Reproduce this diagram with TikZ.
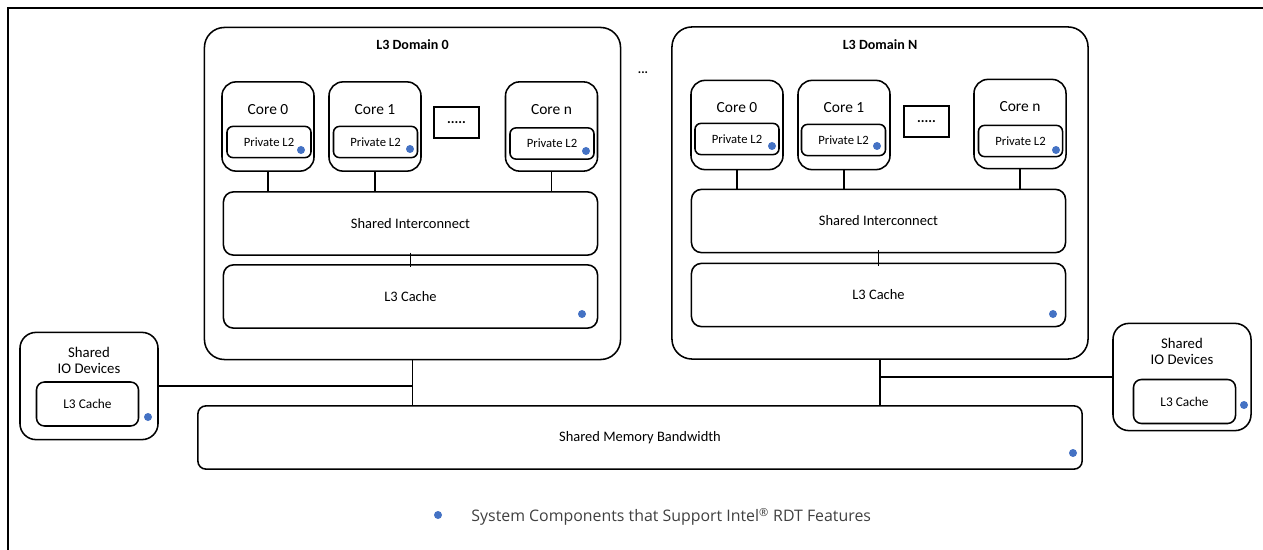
\documentclass[tikz,border=0pt]{standalone}
\usepackage{fontspec}
\setmainfont{Carlito}
\newfontfamily\legendfont{Open Sans}
\usepackage{tikz}
\usetikzlibrary{positioning,calc}
\usepackage{xcolor}
\definecolor{rdtblue}{HTML}{4472C4}
\definecolor{legendgray}{HTML}{404040}

\begin{document}
\begin{tikzpicture}[x=0.025cm, y=-0.025cm, line width=1.1pt,
    l3domain/.style={draw, rounded corners=0.5cm, minimum width=10.4cm, minimum height=8.3cm},
    domtitle/.style={font=\fontsize{10}{12}\selectfont\bfseries},
    core/.style={draw, rounded corners=0.35cm, minimum width=2.3cm, minimum height=2.23cm,
        label={[anchor=center, yshift=-0.7cm, font=\fontsize{11}{13}\selectfont]north:#1}},
    privl2/.style={draw, rounded corners=0.15cm, minimum width=2.1cm, minimum height=0.78cm,
        font=\fontsize{9}{11}\selectfont},
    more/.style={draw, minimum width=1.12cm, minimum height=0.78cm, font=\fontsize{10}{12}\selectfont\bfseries},
    wide/.style={draw, rounded corners=0.25cm, minimum width=9.35cm, minimum height=1.58cm,
        font=\fontsize{10.3}{12}\selectfont},
    iobox/.style={draw, rounded corners=0.4cm, minimum width=3.45cm, minimum height=2.68cm,
        label={[anchor=center, yshift=-0.72cm, align=center, font=\fontsize{10.5}{11.5}\selectfont]north:#1}},
    iocache/.style={draw, rounded corners=0.2cm, minimum width=2.55cm, minimum height=1.1cm,
        font=\fontsize{9.5}{11}\selectfont},
    rdt/.style={circle, fill=rdtblue, inner sep=0pt, minimum size=0.2cm}]

    \useasboundingbox (0,0) rectangle (1263,550);
    \draw[line width=1.8pt] (8,550) -- (8,8) -- (1263,8);

    % L3 Domain 0
    \node[l3domain] (dom0) at (412.5,193.5) {};
    \node[domtitle] (dom0t) at (412.5,45) {L3 Domain 0};
    \node[core={Core 0}] (d0c0) at (268,126.5) {};
    \node[core={Core 1}] (d0c1) at (375,126.5) {};
    \node[more] (d0more) at (456.5,122.5) {.....};
    \node[core={Core n}] (d0cn) at (551.5,126.5) {};
    \node[privl2] (d0l2a) at (269,142) {Private L2};
    \node[privl2] (d0l2b) at (375.5,142) {Private L2};
    \node[privl2] (d0l2n) at (552,143.5) {Private L2};
    \node[rdt] (d0dota) at (301,150) {};
    \node[rdt] (d0dotb) at (410,149) {};
    \node[rdt] (d0dotn) at (586,151) {};
    \node[wide] (d0ic) at (410.5,223.5) {Shared Interconnect};
    \node[wide] (d0l3) at (410.5,296.5) {L3 Cache};
    \node[rdt] (d0dotl3) at (582,314) {};
    \draw (d0c0.south) -- (d0c0.south |- d0ic.north);
    \draw (d0c1.south) -- (d0c1.south |- d0ic.north);
    \draw (d0cn.south) -- (d0cn.south |- d0ic.north);
    \draw[shorten <=-0.08cm, shorten >=-0.08cm] (d0ic.south) -- (d0l3.north);

    % gap between the domains
    \node[font=\fontsize{9}{11}\selectfont\bfseries] (gap) at (643,73) {...};

    % L3 Domain N
    \node[l3domain] (domN) at (880,193) {};
    \node[domtitle] (domNt) at (880,45) {L3 Domain N};
    \node[core={Core 0}] (dNc0) at (737,125) {};
    \node[core={Core 1}] (dNc1) at (844,125) {};
    \node[more] (dNmore) at (926.5,121.5) {.....};
    \node[core={Core n}] (dNcn) at (1020,124) {};
    \node[privl2] (dNl2a) at (737,139) {Private L2};
    \node[privl2] (dNl2b) at (843.5,140) {Private L2};
    \node[privl2] (dNl2n) at (1020.5,141) {Private L2};
    \node[rdt] (dNdota) at (772,146) {};
    \node[rdt] (dNdotb) at (877,146) {};
    \node[rdt] (dNdotn) at (1056,150) {};
    \node[wide] (dNic) at (878.5,221) {Shared Interconnect};
    \node[wide] (dNl3) at (878.5,295) {L3 Cache};
    \node[rdt] (dNdotl3) at (1053,314) {};
    \draw (dNc0.south) -- (dNc0.south |- dNic.north);
    \draw (dNc1.south) -- (dNc1.south |- dNic.north);
    \draw (dNcn.south) -- (dNcn.south |- dNic.north);
    \draw[shorten <=-0.08cm, shorten >=-0.08cm] (dNic.south) -- (dNl3.north);

    % memory and IO
    \node[draw, rounded corners=0.2cm, minimum width=22.1cm, minimum height=1.58cm,
        font=\fontsize{10.3}{12}\selectfont] (mem) at (640,437.5) {Shared Memory Bandwidth};
    \node[rdt] (memdot) at (1073,453) {};
    \node[iobox={Shared\\IO Devices}] (io0) at (89,386) {};
    \node[iocache] (io0l3) at (87.5,404) {L3 Cache};
    \node[rdt] (io0dot) at (148,417) {};
    \node[iobox={Shared\\IO Devices}] (io1) at (1182,377) {};
    \node[iocache] (io1l3) at (1184.5,401.5) {L3 Cache};
    \node[rdt] (io1dot) at (1244,405) {};
    \draw (dom0.south) -- (dom0.south |- mem.north);
    \draw (domN.south) -- (domN.south |- mem.north);
    \draw (io0.east) -- (io0.east -| dom0.south);
    \draw (io1.west) -- (io1.west -| domN.south);

    % legend
    \node[rdt] (keydot) at (438,515) {};
    \node[anchor=west, text=legendgray, font=\legendfont\fontsize{11.3}{13}\selectfont] (keytext) at (466,517)
        {System Components that Support Intel\textsuperscript{®} RDT Features};
\end{tikzpicture}
\end{document}
